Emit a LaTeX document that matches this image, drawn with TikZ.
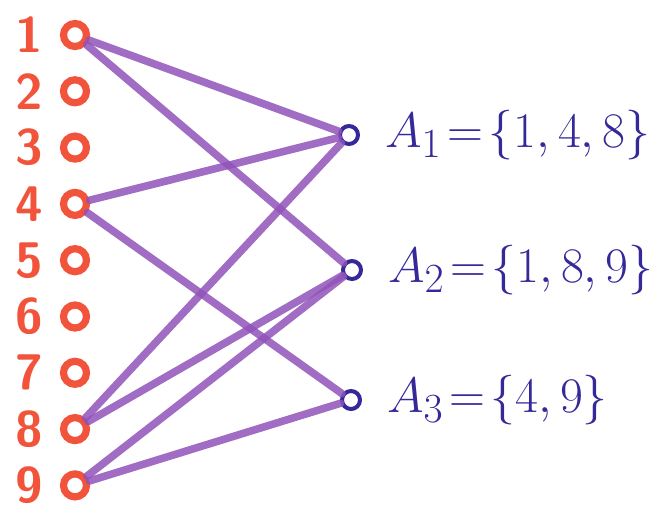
\documentclass[tikz,border=0pt]{standalone}
\usepackage{tikz}
\usetikzlibrary{positioning}
\definecolor{elem}{HTML}{F2533B}
\definecolor{setc}{HTML}{35299A}
\definecolor{edge}{HTML}{9052B8}

\begin{document}
\begin{tikzpicture}[x=0.5pt,y=-0.5pt,
    elemdot/.style={circle,draw=elem,line width=3.6pt,fill=white,minimum size=11.5pt,inner sep=0pt},
    setdot/.style={circle,draw=setc,line width=2pt,fill=white,minimum size=9pt,inner sep=0pt},
    elemlabel/.style={text=elem,font=\fontsize{25}{27}\selectfont\bfseries\sffamily},
    setlabel/.style={text=setc,font=\fontsize{32}{34}\selectfont},
    link/.style={edge,line width=3.8pt,line cap=round,opacity=0.85}]
  \useasboundingbox (0,0) rectangle (663,516);

  % elements 1..9
  \foreach \i in {1,...,9} {
    \node[elemdot] (e\i) at (75,{35+56.3*(\i-1)}) {};
    \node[elemlabel,left=5pt of e\i] (n\i) {\i};
  }

  % sets
  \node[setdot] (s1) at (349,135) {};
  \node[setdot] (s2) at (352,270) {};
  \node[setdot] (s3) at (351,400) {};
  \node[setlabel,right=9pt of s1] (a1) {$A_1\!=\!\{1,4,8\}$};
  \node[setlabel,right=9pt of s2] (a2) {$A_2\!=\!\{1,8,9\}$};
  \node[setlabel,right=9pt of s3] (a3) {$A_3\!=\!\{4,9\}$};

  % membership
  \draw[link] (e1) -- (s1);
  \draw[link] (e1) -- (s2);
  \draw[link] (e4) -- (s1);
  \draw[link] (e4) -- (s3);
  \draw[link] (e8) -- (s1);
  \draw[link] (e8) -- (s2);
  \draw[link] (e9) -- (s2);
  \draw[link] (e9) -- (s3);
\end{tikzpicture}
\end{document}
